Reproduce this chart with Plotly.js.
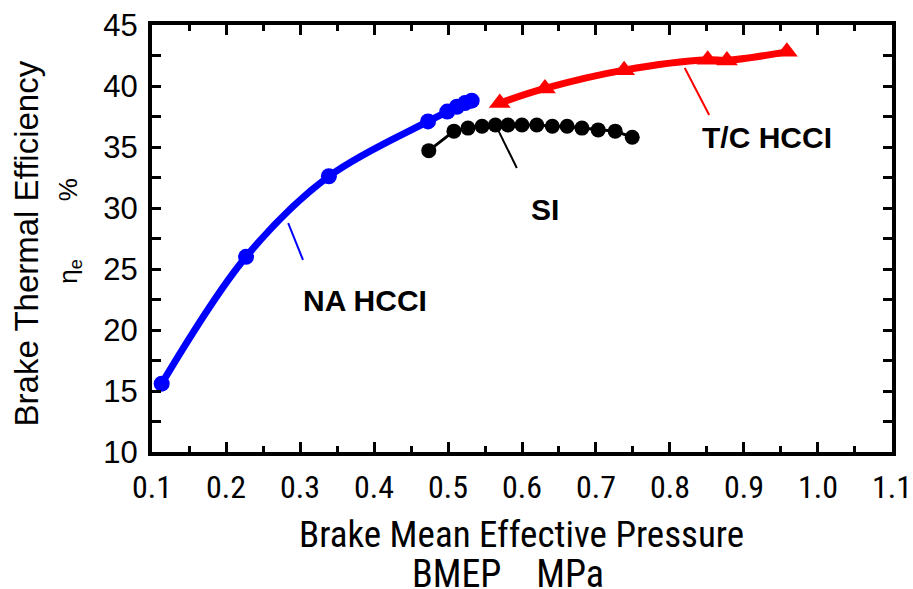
<!DOCTYPE html>
<html>
<head>
<meta charset="utf-8">
<script src="https://cdn.plot.ly/plotly-3.0.1.min.js"></script>
<style>html,body{margin:0;padding:0;background:#fff;}#chart{width:913px;height:589px;}</style>
</head>
<body>
<div id="chart"></div>
<script>
// NA HCCI (blue circles)
var naX = [0.113, 0.227, 0.339, 0.473, 0.499, 0.512, 0.523, 0.532];
var naY = [15.6, 26.0, 32.6, 37.1, 37.9, 38.3, 38.6, 38.8];
// SI (black circles)
var siX = [0.474, 0.508, 0.527, 0.546, 0.564, 0.581, 0.600, 0.620, 0.641, 0.661, 0.681, 0.703, 0.726, 0.749];
var siY = [34.7, 36.3, 36.55, 36.7, 36.8, 36.8, 36.8, 36.8, 36.7, 36.7, 36.55, 36.4, 36.3, 35.8];
// T/C HCCI (red triangles)
var tcX = [0.570, 0.631, 0.738, 0.851, 0.877, 0.958];
var tcY = [38.6, 39.8, 41.3, 42.15, 42.1, 42.8];

var xTickVals = [0.1, 0.2, 0.3, 0.4, 0.5, 0.6, 0.7, 0.8, 0.9, 1.0, 1.1];
var xTickText = ["0.1", "0.2", "0.3", "0.4", "0.5", "0.6", "0.7", "0.8", "0.9", "1.0", "1.1"];
var yTickVals = [10, 15, 20, 25, 30, 35, 40, 45];

var labels = ["NA HCCI", "SI", "T/C HCCI"];
var yTitle1 = "Brake Thermal Efficiency";
var yTitle2 = "η<sub>e</sub>\u00A0\u00A0\u00A0\u00A0\u00A0\u00A0\u00A0\u00A0%";
var xTitle1 = "Brake Mean Effective Pressure";
var xTitle2 = "BMEP\u00A0\u00A0\u00A0\u00A0MPa";

var traces = [
  {x: naX, y: naY, type: 'scatter', mode: 'lines+markers', name: labels[0],
   line: {color: '#0000FF', width: 7, shape: 'spline', smoothing: 1},
   marker: {color: '#0000FF', size: 16, symbol: 'circle'}},
  {x: siX, y: siY, type: 'scatter', mode: 'lines+markers', name: labels[1],
   line: {color: '#000000', width: 3},
   marker: {color: '#000000', size: 15, symbol: 'circle'}},
  {x: tcX, y: tcY, type: 'scatter', mode: 'lines+markers', name: labels[2],
   line: {color: '#FF0000', width: 7, shape: 'spline', smoothing: 1},
   marker: {color: '#FF0000', size: 19, symbol: 'triangle-up'}}
];

var narrow = 'Roboto Condensed, Liberation Sans, Arial, sans-serif';
var sans = 'Liberation Sans, Arial, sans-serif';

function ann(text, x, y, ref, size, fam, angle) {
  return {text: text, x: x, y: y, xref: ref[0], yref: ref[1], showarrow: false,
          xanchor: 'center', yanchor: 'middle', textangle: angle || 0,
          font: {family: fam, size: size, color: '#000'}};
}

var layout = {
  width: 913, height: 589,
  margin: {l: 152, r: 21, t: 25, b: 137},
  paper_bgcolor: '#fff', plot_bgcolor: '#fff',
  showlegend: false,
  xaxis: {
    range: [0.0999, 1.1001], tickvals: xTickVals, ticktext: xTickText,
    showgrid: false, zeroline: false,
    showline: true, linecolor: '#000', linewidth: 4, mirror: 'allticks',
    ticks: 'inside', ticklen: 10, tickwidth: 3, tickcolor: '#000',
    minor: {dtick: 0.05, tick0: 0.1, ticks: 'inside', ticklen: 6, tickwidth: 3, tickcolor: '#000', showgrid: false},
    tickfont: {family: narrow, size: 32, color: '#000'},
    ticklabelstandoff: 4
  },
  yaxis: {
    range: [10, 45], tickvals: yTickVals,
    showgrid: false, zeroline: false,
    showline: true, linecolor: '#000', linewidth: 4, mirror: 'allticks',
    ticks: 'inside', ticklen: 9, tickwidth: 3, tickcolor: '#000',
    minor: {dtick: 2.5, ticks: 'inside', ticklen: 9, tickwidth: 3, tickcolor: '#000', showgrid: false},
    tickfont: {family: sans, size: 31, color: '#000'},
    ticklabelstandoff: 4
  },
  shapes: [
    {type: 'line', xref: 'x', yref: 'y', x0: 0.284, y0: 28.77, x1: 0.304, y1: 25.74, line: {color: '#0000FF', width: 2}},
    {type: 'line', xref: 'x', yref: 'y', x0: 0.5676, y0: 36.4, x1: 0.593, y1: 33.28, line: {color: '#000000', width: 2}},
    {type: 'line', xref: 'x', yref: 'y', x0: 0.820, y0: 41.48, x1: 0.853, y1: 37.62, line: {color: '#FF0000', width: 2}}
  ],
  annotations: [
    ann('<b>' + labels[0] + '</b>', 0.388, 22.4, ['x', 'y'], 30, sans),
    ann('<b>' + labels[1] + '</b>', 0.631, 29.85, ['x', 'y'], 30, sans),
    ann('<b>' + labels[2] + '</b>', 0.931, 35.75, ['x', 'y'], 30, sans),
    ann(yTitle1, -0.170, 0.489, ['paper', 'paper'], 33, sans, -90),
    ann(yTitle2, -0.111, 0.518, ['paper', 'paper'], 26, sans, -90),
    ann(xTitle1, 0.499, -0.194, ['paper', 'paper'], 37, narrow),
    ann(xTitle2, 0.481, -0.286, ['paper', 'paper'], 38, narrow)
  ]
};

Plotly.newPlot('chart', traces, layout, {displayModeBar: false, staticPlot: true});
</script>
</body>
</html>
